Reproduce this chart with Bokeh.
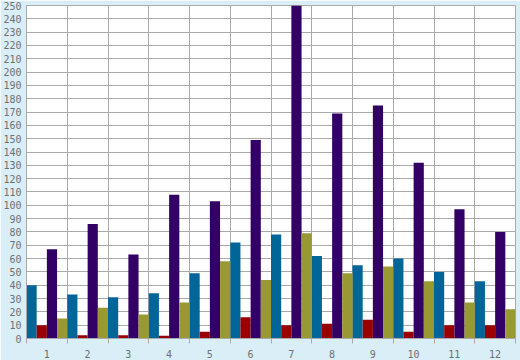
from bokeh.plotting import figure
from bokeh.models import ColumnDataSource, Range1d, FixedTicker
from bokeh.transform import dodge
from bokeh.embed import file_html
from bokeh.resources import INLINE

categories = ["1", "2", "3", "4", "5", "6", "7", "8", "9", "10", "11", "12"]
teal_vals = [40, 33, 31, 34, 49, 72, 78, 62, 55, 60, 50, 43]
red_vals = [10, 2.5, 2.5, 2, 5, 16, 10, 11, 14, 5, 10, 10]
purple_vals = [67, 86, 63, 108, 103, 149, 250, 169, 175, 132, 97, 80]
olive_vals = [15, 23, 18, 27, 58, 44, 79, 49, 54, 43, 27, 22]
y_ticks = list(range(0, 251, 10))

centers = [i + 0.5 for i in range(len(categories))]
bounds = list(range(len(categories) + 1))

source = ColumnDataSource(dict(x=centers, teal=teal_vals, red=red_vals,
                               purple=purple_vals, olive=olive_vals))

BG = "#d9eef6"
GRID = "#aaaaaa"
TXT = "#707070"

p = figure(width=520, height=360, output_backend="svg", toolbar_location=None,
           x_range=Range1d(0, len(categories)), y_range=Range1d(0, 250),
           min_border_left=26, min_border_right=5, min_border_top=5, min_border_bottom=20)
p.background_fill_color = "white"
p.border_fill_color = BG
p.outline_line_color = GRID

series = [("teal", "#006699", -0.375), ("red", "#990000", -0.125),
          ("purple", "#330066", 0.125), ("olive", "#999933", 0.375)]
for col, color, off in series:
    p.vbar(x=dodge("x", off), top=col, width=0.25, bottom=0, source=source,
           fill_color=color, line_color=None)

xa = p.xaxis[0]
xa.ticker = FixedTicker(ticks=centers, minor_ticks=bounds)
xa.major_label_overrides = {c: lab for c, lab in zip(centers, categories)}
xa.major_tick_out = 0
xa.major_tick_in = 0
xa.minor_tick_out = 5
xa.minor_tick_in = 0
xa.minor_tick_line_color = GRID
xa.axis_line_color = GRID
xa.major_label_standoff = 6
xa.major_label_text_font = "DejaVu Sans Mono"
xa.major_label_text_font_size = "10px"
xa.major_label_text_color = TXT

ya = p.yaxis[0]
ya.ticker = FixedTicker(ticks=y_ticks)
ya.major_tick_out = 0
ya.major_tick_in = 0
ya.minor_tick_out = 0
ya.minor_tick_in = 0
ya.axis_line_color = GRID
ya.major_label_standoff = 5
ya.major_label_text_font = "DejaVu Sans Mono"
ya.major_label_text_font_size = "10px"
ya.major_label_text_color = TXT

p.xgrid[0].ticker = FixedTicker(ticks=bounds)
p.xgrid[0].grid_line_color = GRID
p.xgrid[0].grid_line_width = 1
p.ygrid[0].ticker = FixedTicker(ticks=y_ticks)
p.ygrid[0].grid_line_color = GRID
p.ygrid[0].grid_line_width = 1

open("out.html", "w").write(file_html(p, INLINE))
